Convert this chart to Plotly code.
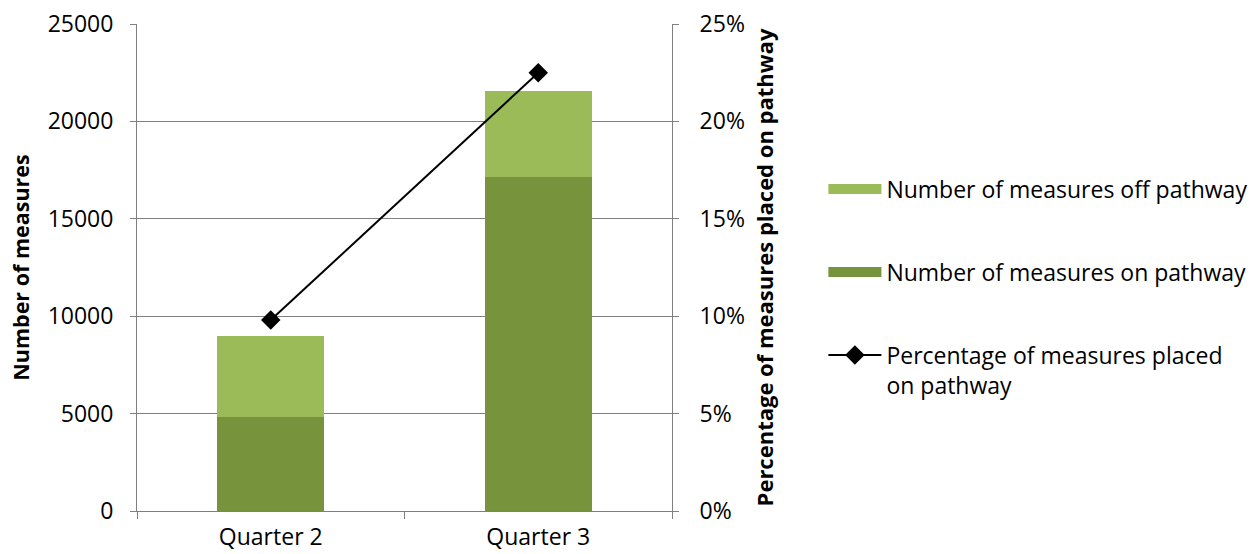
import plotly.graph_objects as go

categories = ["Quarter 2", "Quarter 3"]
on_pathway = [4850, 17150]
off_pathway = [4150, 4400]
pct_on_pathway = [9.8, 22.5]

left_ticks = [0, 5000, 10000, 15000, 20000, 25000]
right_ticks = [0, 5, 10, 15, 20, 25]

FONT = "Open Sans"
GRID = "#7f7f7f"
DARK = "#77933C"
LIGHT = "#9BBB59"

fig = go.Figure()
fig.add_trace(go.Bar(
    x=categories, y=on_pathway, name="Number of measures on pathway",
    marker=dict(color=DARK, line=dict(width=0)), showlegend=False,
))
fig.add_trace(go.Bar(
    x=categories, y=off_pathway, name="Number of measures off pathway",
    marker=dict(color=LIGHT, line=dict(width=0)), showlegend=False,
))
fig.add_trace(go.Scatter(
    x=categories, y=pct_on_pathway, name="Percentage of measures placed<br>on pathway",
    yaxis="y2", mode="lines+markers",
    line=dict(color="black", width=2),
    marker=dict(symbol="diamond", size=15, color="black"),
    legendgroup="c", legendrank=3,
))
# legend entries with wide swatches for the bar series
fig.add_trace(go.Scatter(
    x=[None], y=[None], mode="lines", name="Number of measures off pathway",
    line=dict(color=LIGHT, width=13), legendgroup="a", legendrank=1, hoverinfo="skip",
))
fig.add_trace(go.Scatter(
    x=[None], y=[None], mode="lines", name="Number of measures on pathway",
    line=dict(color=DARK, width=13), legendgroup="b", legendrank=2, hoverinfo="skip",
))

fig.update_layout(
    width=1252, height=554,
    barmode="stack", bargap=0.6,
    plot_bgcolor="white", paper_bgcolor="white",
    font=dict(family=FONT, size=23, color="black"),
    margin=dict(l=137, r=580, t=24, b=43, autoexpand=False),
    xaxis=dict(
        showline=True, linecolor=GRID, linewidth=1,
        ticks="outside", tickson="boundaries", ticklen=7, tickcolor=GRID,
        showgrid=False, tickfont=dict(size=23), ticklabelstandoff=5,
    ),
    yaxis=dict(
        range=[0, 25000], tickvals=left_ticks, ticktext=[str(v) for v in left_ticks],
        showline=True, linecolor=GRID, linewidth=1,
        showgrid=True, gridcolor=GRID, gridwidth=1,
        ticks="outside", ticklen=6, tickcolor=GRID, ticklabelstandoff=12,
        zeroline=False,
        title=dict(text="<b>Number of measures</b>", font=dict(size=21.5), standoff=12),
    ),
    yaxis2=dict(
        range=[0, 25], tickvals=right_ticks, ticktext=[f"{v}%" for v in right_ticks],
        overlaying="y", side="right",
        showline=True, linecolor=GRID, linewidth=1, showgrid=False,
        ticks="outside", ticklen=6, tickcolor=GRID, ticklabelstandoff=16,
        zeroline=False,
        title=dict(text="<b>Percentage of measures placed on pathway</b>", font=dict(size=22), standoff=13),
    ),
    legend=dict(
        x=1.283, y=0.705, xanchor="left", yanchor="top",
        traceorder="grouped", tracegroupgap=50, valign="top",
        itemwidth=53, font=dict(size=23),
        bgcolor="rgba(0,0,0,0)",
    ),
)

fig.write_html("out.html")
